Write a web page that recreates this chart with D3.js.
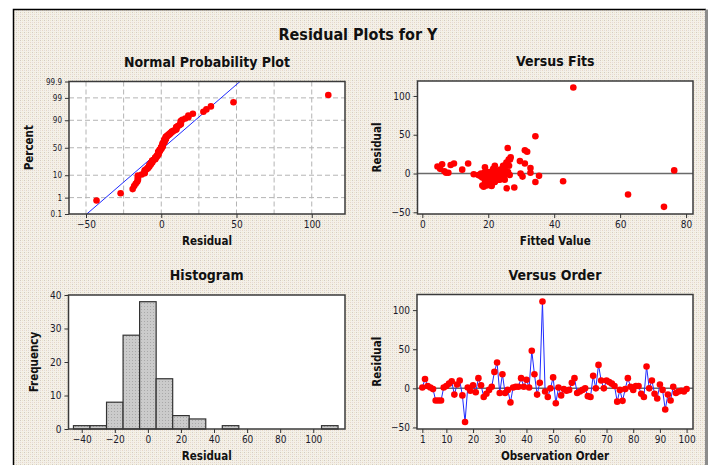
<!DOCTYPE html>
<html>
<head>
<meta charset="utf-8">
<script src="https://cdn.jsdelivr.net/npm/d3@7"></script>
<style>
  body { margin: 0; background: #fff; }
  svg text { font-family: "DejaVu Sans Condensed", "DejaVu Sans", sans-serif; fill: #111; }
  .title { font-size: 16px; font-weight: bold; }
  .ptitle { font-size: 14px; font-weight: bold; }
  .alabel { font-size: 11.5px; font-weight: bold; }
  .tick text { font-size: 10px; fill: #1a1a2a; }
  .tick line { stroke: #333; }
  .small .tick text { font-size: 8px; }
</style>
</head>
<body>
<div id="chart"></div>
<script>
// residuals in observation order (1..100)
const residuals = [
  1, 12, 3, 1, -1, -15.5, -15.5, -15.5, 1, 3,
  6, 9, -8, 5, 10, -9, -43, 1, -3, 4,
  -5, 13, 4, -11, -7, -2, 2, 21, 33, -6,
  18, -6, -2, -18, 1, 2, 2, 13, 2, 11,
  1, 48, 18, -8, 7, 111, -4, -11, 0, 14,
  -19, 1, -9, -1, -3, -2, 7, 13, -6, -4,
  -2, 0, -10, -11, 16, 0, 30, 10, 0, 10,
  8, 6, 3, -17, -2, -16, -1, 13, 2, -2,
  3, 3, -7, -11, 28, 0, 10, -7, -13, 5,
  -2, -27, -8, -15.5, 2, -6, -4, -3, -4, -1
];
// fitted values, same order
const fitted = [
  7.9, 6.0, 6.7, 7.2, 15.6, 18.5, 19.5, 21.0, 20.0, 22.5,
  5.4, 4.6, 23.0, 12.1, 24.5, 19.0, 73.3, 21.5, 17.5, 76.4,
  18.2, 9.6, 24.0, 22.0, 20.5, 17.0, 23.5, 26.8, 25.9, 21.0,
  26.6, 19.8, 25.0, 27.9, 18.8, 22.8, 26.0, 13.9, 20.8, 8.6,
  24.0, 34.3, 26.2, 23.5, 25.0, 45.8, 30.4, 34.3, 29.8, 25.5,
  25.6, 32.8, 21.3, 19.5, 35.4, 22.3, 32.8, 31.1, 24.6, 18.0,
  20.2, 23.0, 42.7, 21.8, 29.6, 25.3, 31.1, 22.0, 17.8, 24.8,
  19.0, 21.5, 23.8, 18.6, 26.5, 21.0, 24.2, 25.8, 20.5, 22.6,
  19.3, 23.2, 24.7, 20.0, 31.8, 26.0, 26.3, 22.4, 19.1, 23.6,
  21.0, 62.4, 25.0, 18.2, 21.9, 23.4, 20.7, 24.4, 22.1, 18.9
];
// histogram bins (centre, count)
const histCenters = [-40, -30, -20, -10, 0, 10, 20, 30, 40, 50, 60, 70, 80, 90, 100, 110];
const histCounts  = [1, 1, 8, 28, 38, 15, 4, 3, 0, 1, 0, 0, 0, 0, 0, 1];

const pctTicks = [0.1, 1, 10, 50, 90, 99, 99.9];
const pctGrid = [1, 10, 50, 90, 99];
const nppXTicks = [-50, 0, 50, 100];
const nppXGrid = [-50, -25, 0, 25, 50, 75, 100];
const fitsXTicks = [0, 20, 40, 60, 80];
const residTicks = [-50, 0, 50, 100];
const histXTicks = [-40, -20, 0, 20, 40, 60, 80, 100];
const histYTicks = [0, 10, 20, 30, 40];
const orderTicks = [1, 10, 20, 30, 40, 50, 60, 70, 80, 90, 100];

// inverse normal cdf (Acklam)
function probit(p) {
  const a = [-3.969683028665376e+01, 2.209460984245205e+02, -2.759285104469687e+02, 1.383577518672690e+02, -3.066479806614716e+01, 2.506628277459239e+00];
  const b = [-5.447609879822406e+01, 1.615858368580409e+02, -1.556989798598866e+02, 6.680131188771972e+01, -1.328068155288572e+01];
  const c = [-7.784894002430293e-03, -3.223964580411365e-01, -2.400758277161838e+00, -2.549732539343734e+00, 4.374664141464968e+00, 2.938163982698783e+00];
  const d = [7.784695709041462e-03, 3.224671290700398e-01, 2.445134137142996e+00, 3.754408661907416e+00];
  const pl = 0.02425;
  if (p < pl) {
    const q = Math.sqrt(-2 * Math.log(p));
    return (((((c[0]*q+c[1])*q+c[2])*q+c[3])*q+c[4])*q+c[5]) / ((((d[0]*q+d[1])*q+d[2])*q+d[3])*q+1);
  }
  if (p > 1 - pl) {
    const q = Math.sqrt(-2 * Math.log(1 - p));
    return -(((((c[0]*q+c[1])*q+c[2])*q+c[3])*q+c[4])*q+c[5]) / ((((d[0]*q+d[1])*q+d[2])*q+d[3])*q+1);
  }
  const q = p - 0.5, r = q * q;
  return (((((a[0]*r+a[1])*r+a[2])*r+a[3])*r+a[4])*r+a[5])*q / (((((b[0]*r+b[1])*r+b[2])*r+b[3])*r+b[4])*r+1);
}

const width = 711, height = 465;
const svg = d3.select('#chart').append('svg')
  .attr('width', width).attr('height', height);

const defs = svg.append('defs');
const bg = defs.append('pattern').attr('id', 'bg')
  .attr('width', 4).attr('height', 4).attr('patternUnits', 'userSpaceOnUse');
bg.append('rect').attr('width', 4).attr('height', 4).attr('fill', '#f4f0e8');
bg.append('rect').attr('x', 0).attr('y', 0).attr('width', 1).attr('height', 1).attr('fill', '#d2cbc2');
bg.append('rect').attr('x', 2).attr('y', 2).attr('width', 1).attr('height', 1).attr('fill', '#e8d6c6');
bg.append('rect').attr('x', 2).attr('y', 0).attr('width', 1).attr('height', 1).attr('fill', '#ebe5cc');
bg.append('rect').attr('x', 0).attr('y', 2).attr('width', 1).attr('height', 1).attr('fill', '#e2dcd8');

const barPat = defs.append('pattern').attr('id', 'bar')
  .attr('width', 3).attr('height', 3).attr('patternUnits', 'userSpaceOnUse');
barPat.append('rect').attr('width', 3).attr('height', 3).attr('fill', '#cbcbcb');
barPat.append('rect').attr('width', 1).attr('height', 1).attr('fill', '#a9a9a9');

// outer frame
svg.append('rect').attr('x', 13.5).attr('y', 9.5).attr('width', 693).attr('height', 470)
  .attr('fill', 'url(#bg)');
svg.append('path').attr('d', 'M13.5,480V9.5H706').attr('fill', 'none').attr('stroke', '#000').attr('stroke-width', 1.5);
svg.append('rect').attr('x', 705).attr('y', 9.5).attr('width', 3).attr('height', 470).attr('fill', '#8c8c8c');

svg.append('text').attr('class', 'title').attr('x', 358).attr('y', 39.5)
  .attr('text-anchor', 'middle').text('Residual Plots for Y');

function panel(box, title, xl, yl, yLabelX) {
  const g = svg.append('g');
  g.append('rect').attr('x', box.x0).attr('y', box.y0)
    .attr('width', box.x1 - box.x0).attr('height', box.y1 - box.y0).attr('fill', '#fff');
  const cx = (box.x0 + box.x1) / 2;
  g.append('text').attr('class', 'ptitle').attr('x', cx).attr('y', box.y0 - 15)
    .attr('text-anchor', 'middle').text(title);
  g.append('text').attr('class', 'alabel').attr('x', cx).attr('y', box.y1 + 31)
    .attr('text-anchor', 'middle').text(xl);
  g.append('text').attr('class', 'alabel')
    .attr('transform', `translate(${yLabelX},${(box.y0 + box.y1) / 2}) rotate(-90)`)
    .attr('text-anchor', 'middle').text(yl);
  return g;
}
function frame(g, box) {
  g.append('rect').attr('x', box.x0).attr('y', box.y0)
    .attr('width', box.x1 - box.x0).attr('height', box.y1 - box.y0)
    .attr('fill', 'none').attr('stroke', '#3a3a3a').attr('stroke-width', 1.5);
}
function axes(g, box, x, y, xt, yt) {
  g.append('g').attr('transform', `translate(0,${box.y1})`)
    .call(d3.axisBottom(x).tickValues(xt).tickSize(4).tickSizeOuter(0).tickFormat(d3.format('d')))
    .call(a => a.select('.domain').remove());
  g.append('g').attr('transform', `translate(${box.x0},0)`)
    .call(d3.axisLeft(y).tickValues(yt).tickSize(4).tickSizeOuter(0).tickFormat(d3.format('d')))
    .call(a => a.select('.domain').remove());
}

// ---- Normal probability plot
{
  const box = {x0: 69, x1: 345, y0: 81.5, y1: 214};
  const g = panel(box, 'Normal Probability Plot', 'Residual', 'Percent', 33);
  const x = d3.scaleLinear().domain([-61.3, 122.1]).range([box.x0, box.x1]);
  const y = d3.scaleLinear().domain([probit(0.001), probit(0.999)]).range([box.y1, box.y0]);
  g.append('g').selectAll('line').data(nppXGrid).join('line')
    .attr('x1', d => x(d)).attr('x2', d => x(d)).attr('y1', box.y0).attr('y2', box.y1)
    .attr('stroke', '#b4b4b4').attr('stroke-dasharray', '5,3');
  g.append('g').selectAll('line').data(pctGrid).join('line')
    .attr('y1', d => y(probit(d / 100))).attr('y2', d => y(probit(d / 100)))
    .attr('x1', box.x0).attr('x2', box.x1)
    .attr('stroke', '#b4b4b4').attr('stroke-dasharray', '5,3');
  const mu = d3.mean(residuals), sd = d3.deviation(residuals);
  const zs = [probit(0.001), probit(0.999)];
  g.append('line')
    .attr('x1', x(mu + sd * zs[0])).attr('y1', y(zs[0]))
    .attr('x2', x(mu + sd * zs[1])).attr('y2', y(zs[1]))
    .attr('stroke', '#1f2bff').attr('stroke-width', 1);
  const sorted = residuals.slice().sort(d3.ascending);
  const n = sorted.length;
  g.append('g').selectAll('circle').data(sorted).join('circle')
    .attr('cx', d => x(d)).attr('cy', (d, i) => y(probit((i + 1 - 0.3) / (n + 0.4))))
    .attr('r', 3.3).attr('fill', '#f00');
  frame(g, box);
  g.append('g').attr('transform', `translate(0,${box.y1})`)
    .call(d3.axisBottom(x).tickValues(nppXTicks).tickSize(4).tickFormat(d3.format('d')))
    .call(a => a.select('.domain').remove());
  g.append('g').attr('class', 'small').attr('transform', `translate(${box.x0},0)`)
    .call(d3.axisLeft(y).tickValues(pctTicks.map(p => probit(p / 100))).tickSize(4)
      .tickFormat((d, i) => pctTicks[i]))
    .call(a => a.select('.domain').remove());
}

// ---- Versus fits
{
  const box = {x0: 417.5, x1: 693, y0: 81, y1: 214};
  const g = panel(box, 'Versus Fits', 'Fitted Value', 'Residual', 381);
  const x = d3.scaleLinear().domain([-1.46, 82.1]).range([box.x0, box.x1]);
  const y = d3.scaleLinear().domain([-52.2, 119.3]).range([box.y1, box.y0]);
  g.append('line').attr('x1', box.x0).attr('x2', box.x1).attr('y1', y(0)).attr('y2', y(0))
    .attr('stroke', '#6a6a6a').attr('stroke-width', 1.5);
  g.append('g').selectAll('circle').data(residuals).join('circle')
    .attr('cx', (d, i) => x(fitted[i])).attr('cy', d => y(d))
    .attr('r', 3.3).attr('fill', '#f00');
  frame(g, box);
  axes(g, box, x, y, fitsXTicks, residTicks);
}

// ---- Histogram
{
  const box = {x0: 68.5, x1: 345, y0: 295, y1: 429};
  const g = panel(box, 'Histogram', 'Residual', 'Frequency', 37.5);
  const x = d3.scaleLinear().domain([-48, 119.2]).range([box.x0, box.x1]);
  const y = d3.scaleLinear().domain([0, 40]).range([box.y1, box.y0]);
  g.append('g').selectAll('rect').data(histCenters).join('rect')
    .attr('x', d => x(d - 5)).attr('width', d => x(d + 5) - x(d - 5))
    .attr('y', (d, i) => y(histCounts[i])).attr('height', (d, i) => y(0) - y(histCounts[i]))
    .attr('fill', 'url(#bar)').attr('stroke', '#333').attr('stroke-width', 1.2);
  frame(g, box);
  axes(g, box, x, y, histXTicks, histYTicks);
}

// ---- Versus order
{
  const box = {x0: 417, x1: 693, y0: 294.5, y1: 429};
  const g = panel(box, 'Versus Order', 'Observation Order', 'Residual', 381);
  const x = d3.scaleLinear().domain([-1, 102.4]).range([box.x0, box.x1]);
  const y = d3.scaleLinear().domain([-52, 120]).range([box.y1, box.y0]);
  g.append('line').attr('x1', box.x0).attr('x2', box.x1).attr('y1', y(0)).attr('y2', y(0))
    .attr('stroke', '#6a6a6a').attr('stroke-width', 1.5);
  g.append('path').datum(residuals)
    .attr('d', d3.line().x((d, i) => x(i + 1)).y(d => y(d)))
    .attr('fill', 'none').attr('stroke', '#1f2bff').attr('stroke-width', 1);
  g.append('g').selectAll('circle').data(residuals).join('circle')
    .attr('cx', (d, i) => x(i + 1)).attr('cy', d => y(d))
    .attr('r', 3.3).attr('fill', '#f00');
  frame(g, box);
  axes(g, box, x, y, orderTicks, residTicks);
}
</script>
</body>
</html>
